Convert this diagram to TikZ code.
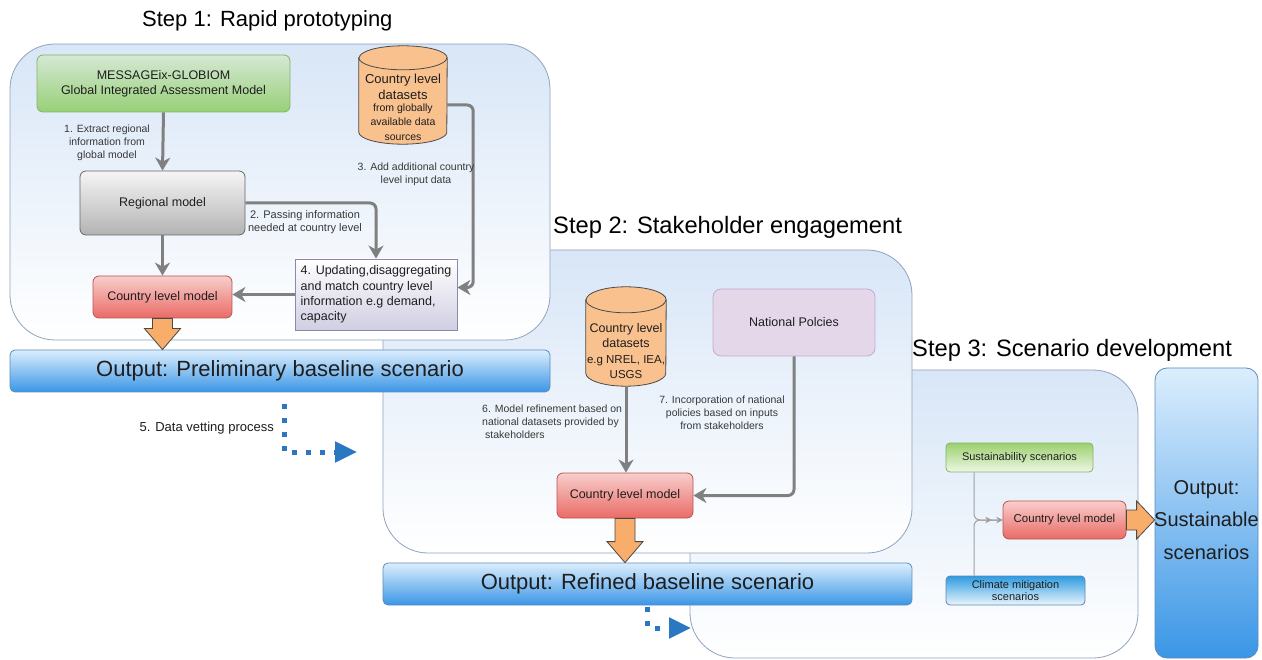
\documentclass[tikz,border=0pt]{standalone}
\usepackage{fontspec}
\setmainfont{Liberation Sans}
\usetikzlibrary{arrows.meta,calc}

\definecolor{panelTop}{HTML}{D8E6F7}
\definecolor{panelLine}{HTML}{8FA3BD}
\definecolor{outTop}{HTML}{DCEEFD}
\definecolor{outBottom}{HTML}{3A96E6}
\definecolor{outLine}{HTML}{5C8BBE}
\definecolor{greenTop}{HTML}{D5E8D4}
\definecolor{greenBottom}{HTML}{97D077}
\definecolor{greenLine}{HTML}{82B366}
\definecolor{sustTop}{HTML}{9BD06E}
\definecolor{sustBottom}{HTML}{EEF7E6}
\definecolor{grayTop}{HTML}{F5F5F5}
\definecolor{grayBottom}{HTML}{B3B3B3}
\definecolor{grayLine}{HTML}{666666}
\definecolor{redTop}{HTML}{F8CECC}
\definecolor{redBottom}{HTML}{EA6B66}
\definecolor{redLine}{HTML}{B85450}
\definecolor{lavBottom}{HTML}{D0CEE2}
\definecolor{lavLine}{HTML}{8C88AA}
\definecolor{policyFill}{HTML}{E4D7E9}
\definecolor{policyLine}{HTML}{C3ABD0}
\definecolor{cylFill}{HTML}{F9C18E}
\definecolor{darkLine}{HTML}{4A4A4A}
\definecolor{blockFill}{HTML}{F8AD6B}
\definecolor{arrowGray}{HTML}{808080}
\definecolor{thinGray}{HTML}{A0A0A0}
\definecolor{dotBlue}{HTML}{2B78C2}
\definecolor{climTop}{HTML}{2E9BE0}
\definecolor{climBottom}{HTML}{EAF5FD}
\definecolor{climLine}{HTML}{5E86B5}
\definecolor{txt}{HTML}{1E1E1E}
\definecolor{lbl}{HTML}{383838}

\tikzset{
  fTitle/.style={font=\fontsize{22}{26}\selectfont},
  fStep/.style={font=\fontsize{23.7}{28}\selectfont},
  fBox/.style={font=\fontsize{12.5}{15}\selectfont},
  fSmall/.style={font=\fontsize{11}{13.5}\selectfont},
  fLab/.style={font=\fontsize{10.5}{13}\selectfont},
  panel/.style={draw=panelLine, line width=0.8pt, rounded corners=45pt,
    top color=panelTop, bottom color=white, inner sep=0pt},
  outbar/.style={draw=outLine, line width=0.8pt, rounded corners=5pt,
    top color=outTop, bottom color=outBottom, inner sep=0pt, fTitle,
    text=txt, align=center},
  box/.style={line width=0.8pt, rounded corners=6pt, inner sep=0pt,
    align=center, fBox, text=txt},
  greenbox/.style={box, draw=greenLine, top color=greenTop, bottom color=greenBottom},
  graybox/.style={box, draw=grayLine, top color=grayTop, bottom color=grayBottom},
  redbox/.style={box, draw=redLine, top color=redTop, bottom color=redBottom},
  lavbox/.style={box, rounded corners=0pt, draw=lavLine, top color=white,
    bottom color=lavBottom, align=left, font=\fontsize{12.5}{15.2}\selectfont},
  lab/.style={fLab, text=lbl, align=center, inner sep=0pt},
  cyltext/.style={text=txt, align=center, inner sep=0pt},
  steptitle/.style={fTitle, text=black, anchor=west, inner sep=0pt},
  garrow/.style={draw=arrowGray, line width=3pt, rounded corners=6pt,
    -{Stealth[length=13pt,width=15pt,inset=4pt]}},
  blockarr/.style={draw=darkLine, line width=0.8pt, fill=blockFill, line join=miter},
  dotarrow/.style={draw=dotBlue, line width=5pt, dash pattern=on 5pt off 9pt,
    -{Triangle[length=22pt,width=20pt]}},
  thinarrow/.style={draw=thinGray, line width=1pt, rounded corners=6pt,
    -{Stealth[length=6pt,width=6pt,sep=5pt]Stealth[length=6pt,width=6pt]}},
  cylbody/.style={draw=darkLine, line width=0.8pt, fill=cylFill},
}

% cylinder outline around a node: node name, x radius, y radius of the caps
\newcommand{\cylpath}[3]{%
  \path[cylbody] ($(#1.north west)+(0,#3)$) -- ($(#1.south west)+(0,-#3)$)
    arc[start angle=180, end angle=0, x radius=#2, y radius=#3]
    -- ($(#1.north east)+(0,#3)$)
    arc[start angle=0, end angle=-180, x radius=#2, y radius=#3] -- cycle;
  \draw[darkLine, line width=0.8pt] ($(#1.north west)+(0,#3)$)
    arc[start angle=180, end angle=0, x radius=#2, y radius=#3];
}

\begin{document}
\begin{tikzpicture}[x=1pt,y=-1pt]
\useasboundingbox (0,0) rectangle (1262,660);
\fill[white] (0,0) rectangle (1262,660);

% ---------- stage panels (back to front) ----------
\node[panel, minimum width=448, minimum height=288] (p3) at (914,514) {};
\node[panel, minimum width=529, minimum height=303] (p2) at (647.5,401.5) {};
\node[panel, minimum width=540, minimum height=296] (p1) at (280,192) {};

\node[steptitle] (t1) at (142,21) {Step 1: Rapid prototyping};
\node[steptitle, fStep] (t2) at (553,227) {Step 2: Stakeholder engagement};
\node[steptitle, fStep] (t3) at (912,350) {Step 3: Scenario development};

% ---------- output bars ----------
\node[outbar, minimum width=540, minimum height=42] (out1) at (280,371)
  {Output: Preliminary baseline scenario};
\node[outbar, minimum width=529, minimum height=42] (out2) at (647.5,584)
  {Output: Refined baseline scenario};
\node[outbar, minimum width=103, minimum height=290, rounded corners=12pt]
  (out3) at (1206.5,513) {};
\node[cyltext, font=\fontsize{20}{32.5}\selectfont] (out3txt) at (1206.5,520)
  {Output:\\Sustainable\\scenarios};

% ---------- step 1 ----------
\node[greenbox, minimum width=253, minimum height=57] (msg) at (163.5,83.5)
  {MESSAGEix-GLOBIOM\\Global Integrated Assessment Model};
\node[graybox, minimum width=165, minimum height=64] (reg) at (162.5,203)
  {Regional model};
\node[lavbox, minimum width=162, minimum height=71] (box4) at (376,294.5)
  {4. Updating,disaggregating\\and match country level\\information e.g demand,\\capacity};
\node[redbox, minimum width=139, minimum height=42] (cm1) at (162.5,297)
  {Country level model};

\node[inner sep=0pt, minimum width=88, minimum height=98] (cyl1) at (403,95) {};
\cylpath{cyl1}{44}{12}
\node[cyltext, font=\fontsize{13}{15.5}\selectfont] (cyl1a) at (403,87)
  {Country level\\datasets};
\node[cyltext, font=\fontsize{10.5}{14.5}\selectfont] (cyl1b) at (403,122)
  {from globally\\available data\\sources};

\draw[garrow] (msg.south) -- (reg.north);
\node[lab] (l1) at (107,143) {1. Extract regional\\information from\\global model};
\draw[garrow] (reg.south) -- (cm1.north);
\draw[garrow] (reg.east) -| (box4.north);
\node[lab, font=\fontsize{11}{13.5}\selectfont] (l2) at (305,222)
  {2. Passing information\\needed at country level};
\draw[garrow] ([yshift=-10pt]cyl1.east) -- ++(26,0) |- ([yshift=7pt]box4.east);
\node[lab] (l3) at (416,174) {3. Add additional country\\level input data};
\draw[garrow] (box4.west) -- (box4.west -| cm1.east);

\draw[blockarr] ($(cm1.south)+(-10,0)$) -- ($(cm1.south |- out1.north)+(-10,-21)$)
  -- ++(-8,0) -- (cm1.south |- out1.north) -- ++(18,-21) -- ++(-8,0)
  -- ($(cm1.south)+(10,0)$) -- cycle;

% data vetting
\node[lab, anchor=east, font=\fontsize{13}{15}\selectfont, text=txt] (l5) at (274,428)
  {5. Data vetting process};
\coordinate (d1end) at (357,452);
\draw[dotarrow] ($(out1.south)+(4,12)$) |- (d1end);

% ---------- step 2 ----------
\node[inner sep=0pt, minimum width=80, minimum height=99] (cyl2) at (626,336.5) {};
\cylpath{cyl2}{40}{13}
\node[cyltext, font=\fontsize{12.5}{15}\selectfont] (cyl2a) at (626,336)
  {Country level\\datasets};
\node[cyltext, font=\fontsize{11.5}{15}\selectfont] (cyl2b) at (626,367)
  {e.g NREL, IEA,\\USGS};

\node[box, draw=policyLine, fill=policyFill, rounded corners=8pt,
  minimum width=162, minimum height=67] (pol) at (794,322.5) {National Polcies};
\node[redbox, minimum width=136, minimum height=45] (cm2) at (625,495.5)
  {Country level model};

\draw[garrow] (cyl2.south) -- (cyl2.south |- cm2.north);
\node[lab, anchor=north west, align=left] (l6) at (482,405)
  {6. Model refinement based on\\national datasets provided by\\\hspace*{3pt}stakeholders};
\draw[garrow] (pol.south) |- (cm2.east);
\node[lab] (l7) at (722,413)
  {7. Incorporation of national\\policies based on inputs\\from stakeholders};

\draw[blockarr] ($(cm2.south)+(-10,0)$) -- ($(cm2.south |- out2.north)+(-10,-21)$)
  -- ++(-8,0) -- (cm2.south |- out2.north) -- ++(18,-21) -- ++(-8,0)
  -- ($(cm2.south)+(10,0)$) -- cycle;

\coordinate (d2end) at (691,628);
\draw[dotarrow] ($(out2.south)+(0,2)$) |- (d2end);

% ---------- step 3 ----------
\node[box, draw=greenLine, top color=sustTop, bottom color=sustBottom,
  rounded corners=4pt, minimum width=147, minimum height=29, fSmall] (sust)
  at (1019.5,457.5) {Sustainability scenarios};
\node[box, draw=climLine, top color=climTop, bottom color=climBottom,
  rounded corners=4pt, minimum width=139, minimum height=29,
  font=\fontsize{11}{12.5}\selectfont] (clim) at (1015.5,590.5)
  {Climate mitigation\\scenarios};
\node[redbox, minimum width=123, minimum height=38,
  font=\fontsize{11.5}{14}\selectfont] (cm3) at (1064.5,520) {Country level model};

\coordinate (jx) at (974,520);
\draw[thinarrow] (sust.south -| jx) |- (cm3.west);
\draw[thinarrow] (clim.north -| jx) |- (cm3.west);

\draw[blockarr] ($(cm3.east)+(0,-10)$) -- ($(cm3.east -| out3.west)+(-18,-10)$)
  -- ++(0,-9) -- (cm3.east -| out3.west) -- ++(-18,19) -- ++(0,-9)
  -- ($(cm3.east)+(0,10)$) -- cycle;

\end{tikzpicture}
\end{document}
